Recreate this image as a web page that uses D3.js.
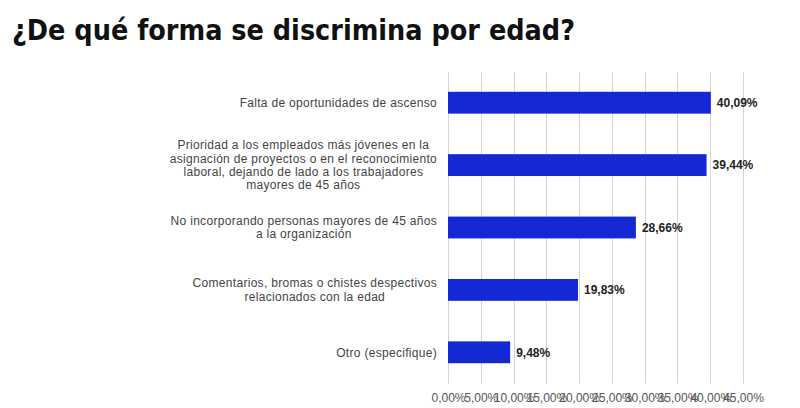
<!DOCTYPE html>
<html>
<head>
<meta charset="utf-8">
<script src="https://cdn.jsdelivr.net/npm/d3@7"></script>
<style>
  html, body { margin: 0; padding: 0; background: #fff; }
  svg { display: block; }
</style>
</head>
<body>
<svg id="chart" width="800" height="408"></svg>
<script>
const title = "¿De qué forma se discrimina por edad?";
const categories = [
  ["Falta de oportunidades de ascenso"],
  ["Prioridad a los empleados más jóvenes en la", "asignación de proyectos o en el reconocimiento", "laboral, dejando de lado a los trabajadores", "mayores de 45 años"],
  ["No incorporando personas mayores de 45 años", "a la organización"],
  ["Comentarios, bromas o chistes despectivos", "relacionados con la edad"],
  ["Otro (especifique)"]
];
const values = [40.09, 39.44, 28.66, 19.83, 9.48];
const tickValues = [0, 5, 10, 15, 20, 25, 30, 35, 40, 45];

const fmt = v => v.toFixed(2).replace(".", ",") + "%";

const svg = d3.select("#chart");
const plotLeft = 448, plotRight = 743, plotTop = 72.5, plotBottom = 383.5;

const x = d3.scaleLinear().domain([0, 45]).range([plotLeft, plotRight]);
const y = d3.scaleBand().domain(d3.range(values.length)).range([plotTop - 1, plotBottom]).paddingInner(0.65).paddingOuter(0.325);

// title
svg.append("text")
  .attr("x", 12).attr("y", 39.5)
  .attr("font-family", "DejaVu Sans Condensed, DejaVu Sans")
  .attr("font-weight", "bold")
  .attr("font-size", 29)
  .attr("textLength", 563)
  .attr("lengthAdjust", "spacingAndGlyphs")
  .attr("fill", "#111")
  .text(title);

// gridlines
svg.append("g").selectAll("line").data(tickValues).join("line")
  .attr("x1", d => Math.round(x(d)) + 0.5).attr("x2", d => Math.round(x(d)) + 0.5)
  .attr("y1", plotTop).attr("y2", plotBottom)
  .attr("stroke", "#d4d4d4").attr("stroke-width", 1);

// x axis labels via d3 axis
const xAxis = d3.axisBottom(x).tickValues(tickValues).tickFormat(d => fmt(d)).tickSize(0).tickPadding(0);
const gx = svg.append("g").attr("transform", `translate(0,${plotBottom + 10})`).call(xAxis);
gx.select(".domain").remove();
gx.selectAll("text")
  .attr("font-family", "Liberation Sans, Arial, sans-serif")
  .attr("font-size", 12)
  .attr("fill", "#555");

// bars
svg.append("g").selectAll("rect").data(values).join("rect")
  .attr("x", x(0))
  .attr("y", (d, i) => y(i))
  .attr("width", d => x(d) - x(0))
  .attr("height", y.bandwidth())
  .attr("fill", "#1428d4");

// value labels
svg.append("g").selectAll("text").data(values).join("text")
  .attr("x", d => x(d) + 6)
  .attr("y", (d, i) => y(i) + y.bandwidth() / 2)
  .attr("dy", "0.35em")
  .attr("font-family", "Liberation Sans, Arial, sans-serif")
  .attr("font-size", 12)
  .attr("font-weight", "bold")
  .attr("fill", "#222")
  .text(d => fmt(d));

// category labels (multi-line, centered block, right-aligned)
const lineH = 13.3;
const labelG = svg.append("g")
  .attr("font-family", "Liberation Sans, Arial, sans-serif")
  .attr("font-size", 12)
  .attr("letter-spacing", 0.3)
  .attr("fill", "#444");
categories.forEach((lines, i) => {
  const cy = y(i) + y.bandwidth() / 2;
  const t = labelG.append("text").attr("text-anchor", "middle");
  lines.forEach((ln, j) => {
    t.append("tspan").attr("y", cy + (j - (lines.length - 1) / 2) * lineH).attr("dy", "0.35em").text(ln);
  });
  let maxW = 0;
  t.selectAll("tspan").each(function() { maxW = Math.max(maxW, this.getComputedTextLength()); });
  t.selectAll("tspan").attr("x", 437 - maxW / 2);
});
</script>
</body>
</html>
